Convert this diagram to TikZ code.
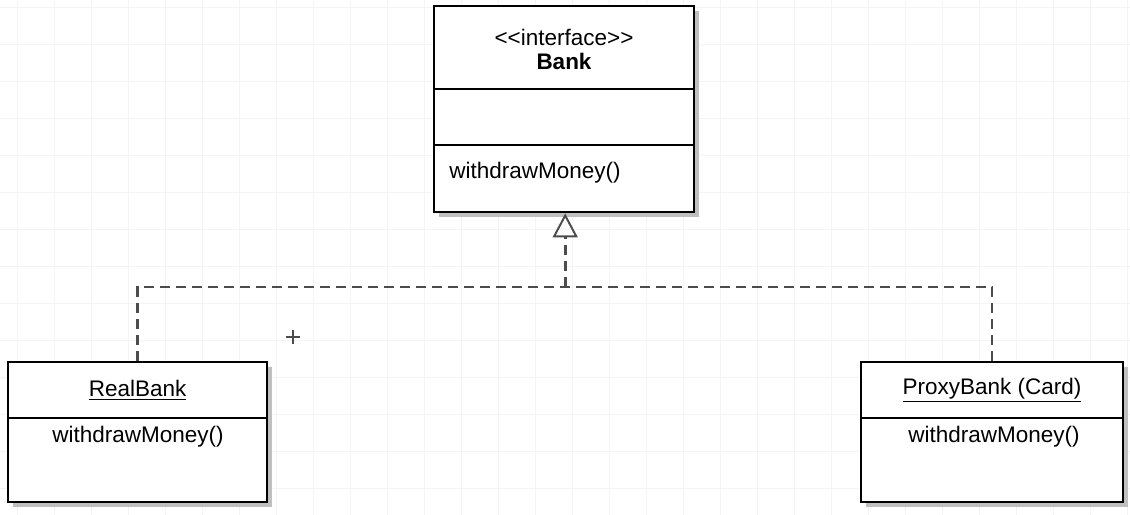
\documentclass[tikz,border=0pt]{standalone}
\usepackage{fontspec}
\setmainfont{Liberation Sans}
\usetikzlibrary{arrows.meta}
\begin{document}
\begin{tikzpicture}[
    gridline/.style={gray!9, line width=0.5pt},
    umlbox/.style={draw=black, line width=2pt, fill=white, rectangle, inner sep=0pt},
    shade/.style={fill=gray!50},
    realize/.style={dash pattern=on 0.25cm off 0.15cm, line width=2.1pt, black!70},
    txt/.style={font=\fontsize{16}{19}\selectfont, inner sep=0pt}
]
    \useasboundingbox (0,0) rectangle (28.25,-12.875);
    % Background grid
    \begin{scope}
        \clip (0,0) rectangle (28.25,-12.875);
        \draw[gridline, xshift=0.425cm, yshift=-0.175cm] (-1,1) grid[step=0.925] (29,-14);
    \end{scope}

    % Bank interface
    \fill[shade] (10.975,-0.275) rectangle (17.475,-5.425);
    \node[umlbox, minimum width=6.5cm, minimum height=5.15cm] (bank) at (14.1,-2.725) {};
    \draw[line width=2pt] (10.85,-2.225) -- (17.35,-2.225);
    \draw[line width=2pt] (10.85,-3.625) -- (17.35,-3.625);
    \node[txt] (stereo) at (14.1,-0.925) {{<}{<}interface{>}{>}};
    \node[txt, font=\fontsize{16}{19}\selectfont\bfseries] (bankname) at (14.1,-1.525) {Bank};
    \node[txt, anchor=west] (bankop) at (11.225,-4.325) {withdrawMoney()};

    % RealBank class
    \fill[shade] (0.325,-9.175) rectangle (6.8,-12.675);
    \node[umlbox, minimum width=6.475cm, minimum height=3.5cm] (real) at (3.4375,-10.8) {};
    \draw[line width=2pt] (0.2,-10.45) -- (6.675,-10.45);
    \node[txt] (realname) at (3.44,-9.75) {\underline{RealBank}};
    \node[txt] (realop) at (3.45,-10.925) {withdrawMoney()};

    % ProxyBank class
    \fill[shade] (21.65,-9.175) rectangle (28.2,-12.675);
    \node[umlbox, minimum width=6.55cm, minimum height=3.5cm] (proxy) at (24.8,-10.8) {};
    \draw[line width=2pt] (21.525,-10.45) -- (28.075,-10.45);
    \node[txt] (proxyname) at (24.8,-9.75) {\underline{ProxyBank (Card)}};
    \node[txt] (proxyop) at (24.85,-10.925) {withdrawMoney()};

    % Realization arrows
    \coordinate (join) at (14.13,-7.175);
    \draw[realize] (real.north) |- (join);
    \draw[realize] (proxy.north) |- (join);
    \draw[realize, -{Triangle[open, width=0.625cm, length=0.6cm, line width=1.4pt, sep=0pt]}] (join) -- (bank.south -| join);

    % Cursor mark
    \draw[black!70, line width=0.8pt] (7.15,-8.425) -- (7.5,-8.425);
    \draw[black!70, line width=0.8pt] (7.325,-8.25) -- (7.325,-8.6);
\end{tikzpicture}
\end{document}
